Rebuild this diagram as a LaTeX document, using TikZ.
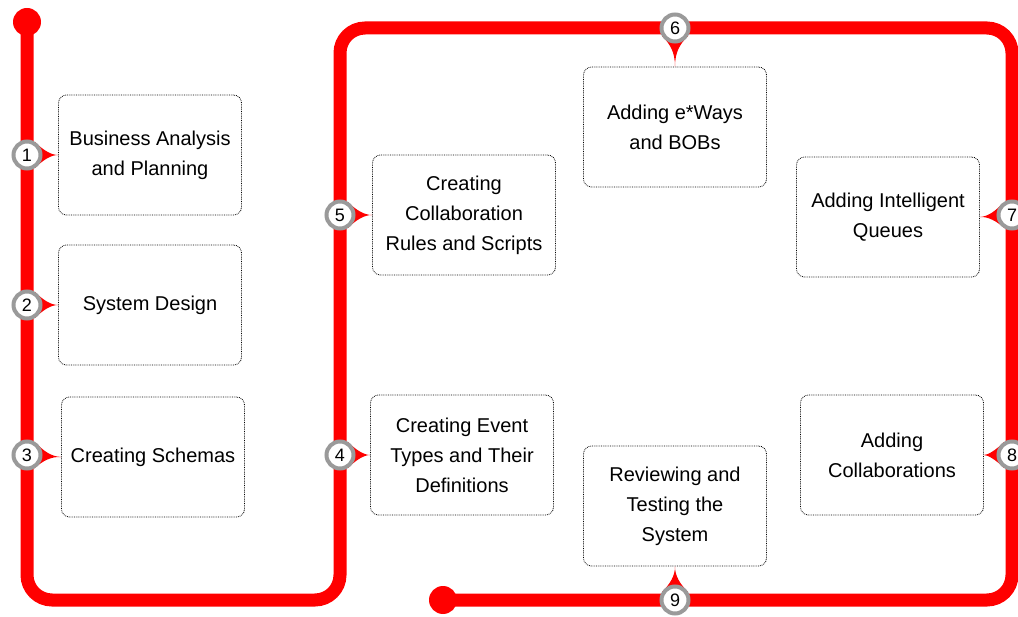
\documentclass[tikz,border=0pt]{standalone}
\usepackage{fontspec}
\setmainfont{Liberation Sans}
\usetikzlibrary{calc,backgrounds}
\definecolor{track}{HTML}{FF0000}
\definecolor{ring}{HTML}{9A9A9A}

% spike from a marker to its step box
\newcommand{\pin}[2]{%
  \fill[track] ($(#1)!8pt!(#2)!13pt!90:(#2)$)
    .. controls ($(#1)!16pt!(#2)!5pt!90:(#2)$) and ($(#1)!24pt!(#2)$) .. (#2)
    .. controls ($(#1)!24pt!(#2)$) and ($(#1)!16pt!(#2)!5pt!-90:(#2)$)
    .. ($(#1)!8pt!(#2)!13pt!-90:(#2)$) -- cycle;}

\begin{document}
\begin{tikzpicture}[x=1pt,y=-1pt,
  stepbox/.style={draw,densely dotted,line width=0.8pt,rounded corners=8pt,
    minimum width=183pt,minimum height=120pt,align=center,
    font=\fontsize{20}{30}\selectfont},
  marker/.style={circle,draw=ring,line width=4pt,fill=white,minimum size=27pt,
    inner sep=0pt,font=\fontsize{18}{18}\selectfont},
  line/.style={draw=track,line width=13pt,rounded corners=25pt},
  dot/.style={fill=track}]
  \useasboundingbox (0,0) rectangle (1018,617);

  % the nine steps
  \foreach \n/\p/\t in {1/{150,155}/{Business Analysis\\and Planning},
                        2/{150,305}/{System Design},
                        3/{153,457}/{Creating Schemas},
                        4/{462,455}/{Creating Event\\Types and Their\\Definitions},
                        5/{464,215}/{Creating\\Collaboration\\Rules and Scripts},
                        6/{675,127}/{Adding e*Ways\\and BOBs},
                        7/{888,217}/{Adding Intelligent\\Queues},
                        8/{892,455}/{Adding\\Collaborations},
                        9/{675,506}/{Reviewing and\\Testing the\\System}}
    \node[stepbox] (s\n) at (\p) {\t};

  % numbered markers on the line
  \foreach \n/\p in {1/{27,155},2/{27,305},3/{27,455},4/{340,455},5/{340,215},
                     6/{675,28},7/{1012,215},8/{1012,455},9/{675,600}}
    \node[marker] (m\n) at (\p) {\n};

  \begin{scope}[on background layer]
    \draw[line] (27,22) -- (27,600) -- (340,600) -- (340,28) -- (1012,28)
      -- (1012,600) -- (443,600);
    \fill[dot] (27,22) circle (14pt);
    \fill[dot] (443,600) circle (14pt);
    \foreach \n/\a in {1/west,2/west,3/west,4/west,5/west,6/north,7/east,8/east,9/south}
      \pin{m\n.center}{s\n.\a};
  \end{scope}
\end{tikzpicture}
\end{document}
